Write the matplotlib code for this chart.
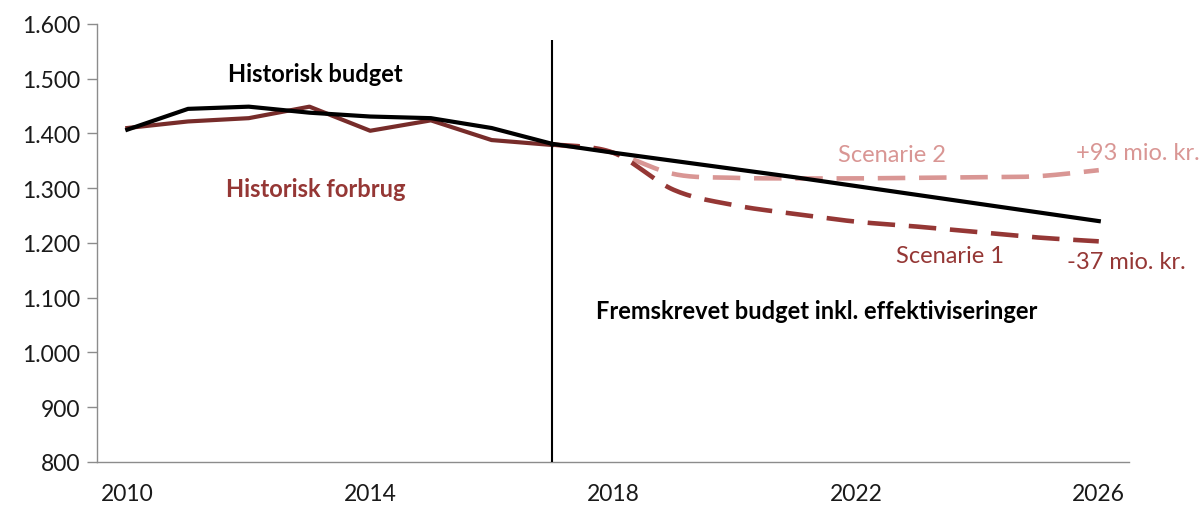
import numpy as np
import matplotlib
matplotlib.use("Agg")
import matplotlib.pyplot as plt
from matplotlib.ticker import FuncFormatter

plt.rcParams["font.family"] = ["Lato", "DejaVu Sans"]

# Historik 2010-2017 (mio. kr.)
hist_years = [2010, 2011, 2012, 2013, 2014, 2015, 2016, 2017]
hist_budget = [1407, 1445, 1449, 1438, 1431, 1428, 1410, 1381]
hist_forbrug = [1410, 1422, 1428, 1449, 1405, 1424, 1388, 1379]

# Fremskrivning 2017-2026
proj_years = [2017, 2018, 2019, 2020, 2021, 2022, 2023, 2024, 2025, 2026]
proj_budget = [1381, 1365, 1350, 1335, 1320, 1304, 1288, 1272, 1256, 1240]
scenarie_1 = [1380, 1365, 1297, 1269, 1253, 1239, 1230, 1220, 1210, 1203]
scenarie_2 = [1380, 1365, 1326, 1319, 1318, 1318, 1319, 1320, 1322, 1333]

yticks = [800, 900, 1000, 1100, 1200, 1300, 1400, 1500, 1600]
xticks = [2010, 2014, 2018, 2022, 2026]

BLACK = "#000000"
FORBRUG = "#772C2A"
RED = "#953735"
PINK = "#D99694"
FS = 17


def smooth(x, y, n=20):
    # bezier-udglatning som i Excel-diagrammer
    x = np.asarray(x, float)
    y = np.asarray(y, float)
    pts = np.column_stack([x, y])
    out = []
    for i in range(len(pts) - 1):
        p0 = pts[i - 1] if i > 0 else pts[i]
        p1 = pts[i]
        p2 = pts[i + 1]
        p3 = pts[i + 2] if i + 2 < len(pts) else pts[i + 1]
        c1 = p1 + (p2 - p0) / 6
        c2 = p2 - (p3 - p1) / 6
        t = np.linspace(0, 1, n)[:, None]
        seg = ((1 - t) ** 3) * p1 + 3 * ((1 - t) ** 2) * t * c1 + 3 * (1 - t) * t ** 2 * c2 + t ** 3 * p2
        out.append(seg if i == 0 else seg[1:])
    out = np.vstack(out)
    return out[:, 0], out[:, 1]


fig = plt.figure(figsize=(12.03, 5.06), dpi=100)
ax = fig.add_axes([0.0806, 0.085, 0.858, 0.8656])

sx, sy = smooth(proj_years, scenarie_2)
ax.plot(sx, sy, color=PINK, lw=3.3, dashes=(6, 3), zorder=2)
sx, sy = smooth(proj_years, scenarie_1)
ax.plot(sx, sy, color=RED, lw=3.3, dashes=(6, 3), zorder=2)

ax.plot(hist_years, hist_forbrug, color=FORBRUG, lw=3.0, zorder=3)
ax.plot(hist_years, hist_budget, color=BLACK, lw=3.0, zorder=4)
ax.plot(proj_years, proj_budget, color=BLACK, lw=3.0, zorder=4)

ax.vlines(2017, 800, 1570, color=BLACK, lw=1.5, zorder=5)

ax.set_xlim(2009.5, 2026.5)
ax.set_ylim(800, 1600)
ax.set_yticks(yticks)
ax.yaxis.set_major_formatter(FuncFormatter(lambda v, p: f"{int(v):,}".replace(",", ".")))
ax.set_xticks(xticks)
ax.set_xticklabels([str(x) for x in xticks])

for s in ["top", "right"]:
    ax.spines[s].set_visible(False)
for s in ["left", "bottom"]:
    ax.spines[s].set_color("#8C8C8C")
    ax.spines[s].set_linewidth(1.0)

ax.tick_params(axis="y", colors="#8C8C8C", length=7, width=1.0, labelsize=16.5,
               labelcolor="#1A1A1A", pad=5)
ax.tick_params(axis="x", length=0, labelsize=16.5, labelcolor="#1A1A1A", pad=15)

ax.text(2013.1, 1509, "Historisk budget", color=BLACK, fontsize=FS,
        fontweight="bold", ha="center", va="center")
ax.text(2013.1, 1299, "Historisk forbrug", color=RED, fontsize=FS,
        fontweight="bold", ha="center", va="center")
ax.text(2021.35, 1076, "Fremskrevet budget inkl. effektiviseringer", color=BLACK,
        fontsize=FS, fontweight="bold", ha="center", va="center")
ax.text(2022.6, 1361, "Scenarie 2", color=PINK, fontsize=FS, ha="center", va="center")
ax.text(2026.65, 1366, "+93 mio. kr.", color=PINK, fontsize=FS, ha="center",
        va="center", clip_on=False)
ax.text(2023.55, 1178, "Scenarie 1", color=RED, fontsize=FS, ha="center", va="center")
ax.text(2026.45, 1167, "-37 mio. kr.", color=RED, fontsize=FS, ha="center",
        va="center", clip_on=False)

fig.savefig("out.png", dpi=100)
